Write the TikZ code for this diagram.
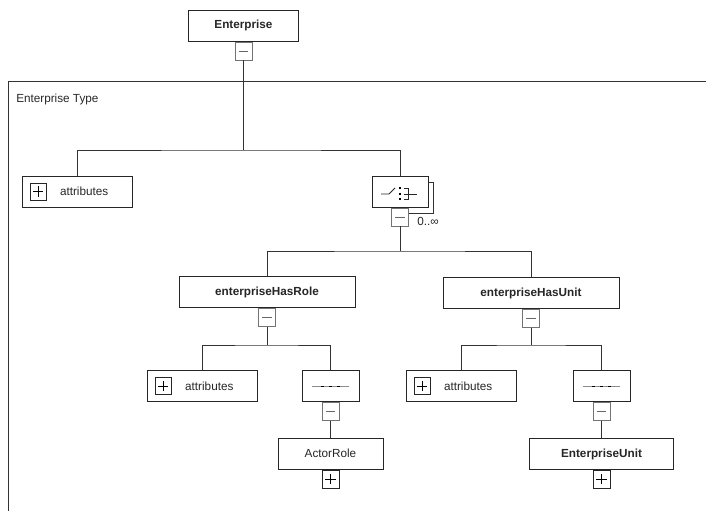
\documentclass[tikz,border=0pt]{standalone}
\usepackage{fontspec}
\setmainfont{Liberation Sans}
\usetikzlibrary{positioning}

\tikzset{
    elem/.style={draw=black!85, fill=white, line width=0.6pt, inner sep=0pt, minimum height=23.4pt, text=black!85, font=\fontsize{8.8}{10}\selectfont},
    expm/.style={draw=black!55, fill=white, line width=0.6pt, inner sep=0pt, minimum width=12.75pt, minimum height=13.5pt,
        path picture={\draw[black!60, line width=0.6pt] ([xshift=-3.6pt]path picture bounding box.center) -- ([xshift=3.6pt]path picture bounding box.center);}},
    expp/.style={draw=black!85, fill=white, line width=0.6pt, inner sep=0pt, minimum width=12.75pt, minimum height=13.5pt,
        path picture={\draw[black, line width=0.6pt] ([xshift=-3.8pt]path picture bounding box.center) -- ([xshift=3.8pt]path picture bounding box.center)
            ([yshift=-3.8pt]path picture bounding box.center) -- ([yshift=3.8pt]path picture bounding box.center);}},
    lbl/.style={inner sep=0pt, text=black!85, font=\fontsize{8.8}{10}\selectfont},
    conn/.style={draw=black!80, line width=0.6pt},
}

\begin{document}
\begin{tikzpicture}[x=0.75pt,y=0.75pt,yscale=-1,xscale=1]
    \useasboundingbox (0,0) rectangle (706,511);

    %Frame: Enterprise Type
    \draw [conn] (8,511) -- (8,81) -- (706,81) ;
    \node [lbl, anchor=west] (ftype) at (16,99) {Enterprise Type};

    %Top element
    \node [elem, minimum width=82.5pt, font=\fontsize{8.8}{10}\selectfont\bfseries] (ent) at (243.5,25.5) {Enterprise};
    \node [expm, below=0pt of ent] (entM) {};

    %attributes of Enterprise Type
    \node [elem, minimum width=82.5pt] (attr1) at (77,191.5) {};
    \node [expp, minimum width=12pt, minimum height=12.75pt, right=6pt of attr1.west] (attr1P) {};
    \node [lbl, right=10pt of attr1P] (attr1T) {attributes};

    %Choice compositor with shadow
    \draw [conn] (392,182) rectangle (433.5,213) ;
    \node [elem, minimum width=42pt] (choice) at (400,191.5) {};
    \node [expm, below=0pt of choice] (choiceM) {};
    \node [lbl, anchor=west] (card) at (417,221.5) {0..∞};
    \begin{scope}[shift={(choice.center)}]
        \draw [black!85, line width=0.6pt] (-19,2.5) -- (-11,2.5) -- (-5,-3.5) ;
        \foreach \y in {-3.5,2.5,7.5}
            \fill [black] (-1.5,\y-1) rectangle (0.5,\y+1) ;
        \draw [black!85, line width=0.6pt] (3.5,-3.5) -- (8.5,-3.5) -- (8.5,7.5) -- (3.5,7.5) (3.5,2.5) -- (17,2.5) ;
    \end{scope}

    %enterpriseHasRole / enterpriseHasUnit
    \node [elem, minimum width=132pt, font=\fontsize{8.8}{10}\selectfont\bfseries] (role) at (267,292) {enterpriseHasRole};
    \node [expm, below=0pt of role] (roleM) {};
    \node [elem, minimum width=132pt, font=\fontsize{8.8}{10}\selectfont\bfseries] (unit) at (531,293) {enterpriseHasUnit};
    \node [expm, below=0pt of unit] (unitM) {};

    %children of enterpriseHasRole
    \node [elem, minimum width=83pt] (attr2) at (202.5,386) {};
    \node [expp, minimum width=12pt, minimum height=12.75pt, right=6pt of attr2.west] (attr2P) {};
    \node [lbl, right=10pt of attr2P] (attr2T) {attributes};
    \node [elem, minimum width=42.75pt] (seq1) at (330.5,386) {};
    \node [expm, below=0pt of seq1] (seq1M) {};
    \node [elem, minimum width=78.75pt] (actor) at (330.5,453.5) {ActorRole};
    \node [expp, below=0pt of actor] (actorP) {};

    %children of enterpriseHasUnit
    \node [elem, minimum width=82.5pt] (attr3) at (461,386) {};
    \node [expp, minimum width=12pt, minimum height=12.75pt, right=6pt of attr3.west] (attr3P) {};
    \node [lbl, right=10pt of attr3P] (attr3T) {attributes};
    \node [elem, minimum width=42.75pt] (seq2) at (601.5,386) {};
    \node [expm, below=0pt of seq2] (seq2M) {};
    \node [elem, minimum width=108pt, font=\fontsize{8.8}{10}\selectfont\bfseries] (eunit) at (601.5,454) {EnterpriseUnit};
    \node [expp, below=0pt of eunit] (eunitP) {};

    %Sequence icons
    \foreach \s in {seq1,seq2} {
        \begin{scope}[shift={(\s.center)}]
            \draw [black!45, line width=0.6pt] (-18.5,0.5) -- (18.5,0.5) ;
            \foreach \d in {-8,0,8}
                \draw [black, line width=1.1pt] (\d-1.5,0.5) -- (\d+1.5,0.5) ;
        \end{scope}
    }

    %Connectors
    \coordinate (b1) at (243.5,150);
    \coordinate (b2) at (400,251);
    \coordinate (b3) at (267,345);
    \coordinate (b4) at (531,345);
    \draw [conn] (entM.south) -- (b1) ;
    \draw [conn] (attr1.north) |- (b1) -| (choice.north) ;
    \draw [conn] (choiceM.south) -- (b2) ;
    \draw [conn] (role.north) |- (b2) -| (unit.north) ;
    \draw [conn] (roleM.south) -- (b3) ;
    \draw [conn] (attr2.north) |- (b3) -| (seq1.north) ;
    \draw [conn] (seq1M.south) -- (actor.north) ;
    \draw [conn] (unitM.south) -- (b4) ;
    \draw [conn] (attr3.north) |- (b4) -| (seq2.north) ;
    \draw [conn] (seq2M.south) -- (eunit.north) ;

\end{tikzpicture}
\end{document}
